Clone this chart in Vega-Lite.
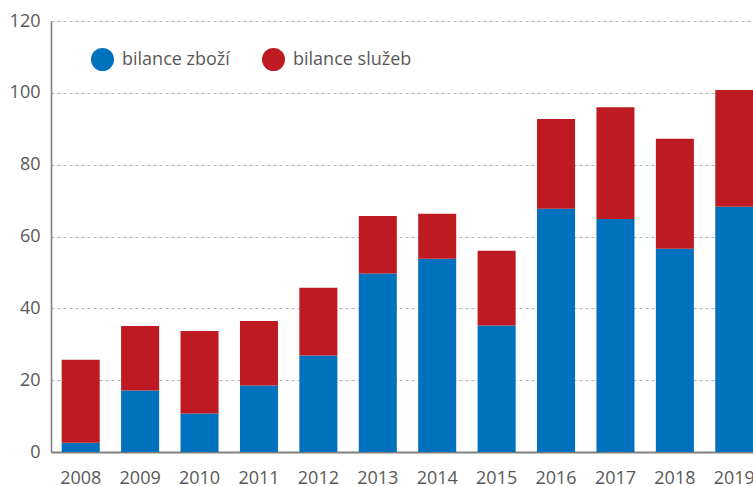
{
  "$schema": "https://vega.github.io/schema/vega-lite/v6.json",
  "autosize": "none",
  "width": 702,
  "height": 431,
  "padding": {"left": 51, "top": 21, "right": 0, "bottom": 34},
  "background": "white",
  "config": {
    "view": {"stroke": null},
    "font": "Open Sans",
    "axis": {"labelFont": "Open Sans", "labelFontSize": 18, "labelColor": "#595959", "ticks": false, "title": null, "domainColor": "#808080", "domainWidth": 1.6}
  },
  "data": {
    "values": [
      {"rok": "2008", "typ": "bilance zboží", "hodnota": 2.6},
      {"rok": "2008", "typ": "bilance služeb", "hodnota": 23.1},
      {"rok": "2009", "typ": "bilance zboží", "hodnota": 17.1},
      {"rok": "2009", "typ": "bilance služeb", "hodnota": 18.0},
      {"rok": "2010", "typ": "bilance zboží", "hodnota": 10.7},
      {"rok": "2010", "typ": "bilance služeb", "hodnota": 23.0},
      {"rok": "2011", "typ": "bilance zboží", "hodnota": 18.5},
      {"rok": "2011", "typ": "bilance služeb", "hodnota": 18.0},
      {"rok": "2012", "typ": "bilance zboží", "hodnota": 26.9},
      {"rok": "2012", "typ": "bilance služeb", "hodnota": 18.8},
      {"rok": "2013", "typ": "bilance zboží", "hodnota": 49.7},
      {"rok": "2013", "typ": "bilance služeb", "hodnota": 16.0},
      {"rok": "2014", "typ": "bilance zboží", "hodnota": 53.8},
      {"rok": "2014", "typ": "bilance služeb", "hodnota": 12.5},
      {"rok": "2015", "typ": "bilance zboží", "hodnota": 35.2},
      {"rok": "2015", "typ": "bilance služeb", "hodnota": 20.8},
      {"rok": "2016", "typ": "bilance zboží", "hodnota": 67.7},
      {"rok": "2016", "typ": "bilance služeb", "hodnota": 25.0},
      {"rok": "2017", "typ": "bilance zboží", "hodnota": 64.9},
      {"rok": "2017", "typ": "bilance služeb", "hodnota": 31.1},
      {"rok": "2018", "typ": "bilance zboží", "hodnota": 56.6},
      {"rok": "2018", "typ": "bilance služeb", "hodnota": 30.6},
      {"rok": "2019", "typ": "bilance zboží", "hodnota": 68.3},
      {"rok": "2019", "typ": "bilance služeb", "hodnota": 32.5}
    ]
  },
  "mark": {"type": "bar"},
  "encoding": {
    "x": {
      "field": "rok", "type": "ordinal",
      "scale": {"paddingInner": 0.36, "paddingOuter": 0.18, "range": [0, 713]},
      "axis": {"labelAngle": 0, "labelPadding": 17, "domainWidth": 2}
    },
    "y": {
      "field": "hodnota", "type": "quantitative", "stack": "zero",
      "scale": {"domain": [0, 120], "nice": false},
      "axis": {"values": [0, 20, 40, 60, 80, 100, 120], "grid": true, "gridColor": "#b3b3b3", "gridDash": [3, 3], "gridWidth": 1, "labelPadding": 11}
    },
    "color": {
      "field": "typ", "type": "nominal",
      "scale": {"domain": ["bilance zboží", "bilance služeb"], "range": ["#0071bc", "#be1a21"]},
      "legend": {
        "title": null, "orient": "none", "direction": "horizontal",
        "legendX": 40, "legendY": 27,
        "symbolType": "circle", "symbolSize": 529, "symbolStrokeWidth": 0,
        "labelFont": "Open Sans", "labelFontSize": 18, "labelColor": "#595959",
        "labelOffset": 8, "columnPadding": 32
      }
    },
    "order": {"field": "typ", "sort": "descending"}
  }
}
